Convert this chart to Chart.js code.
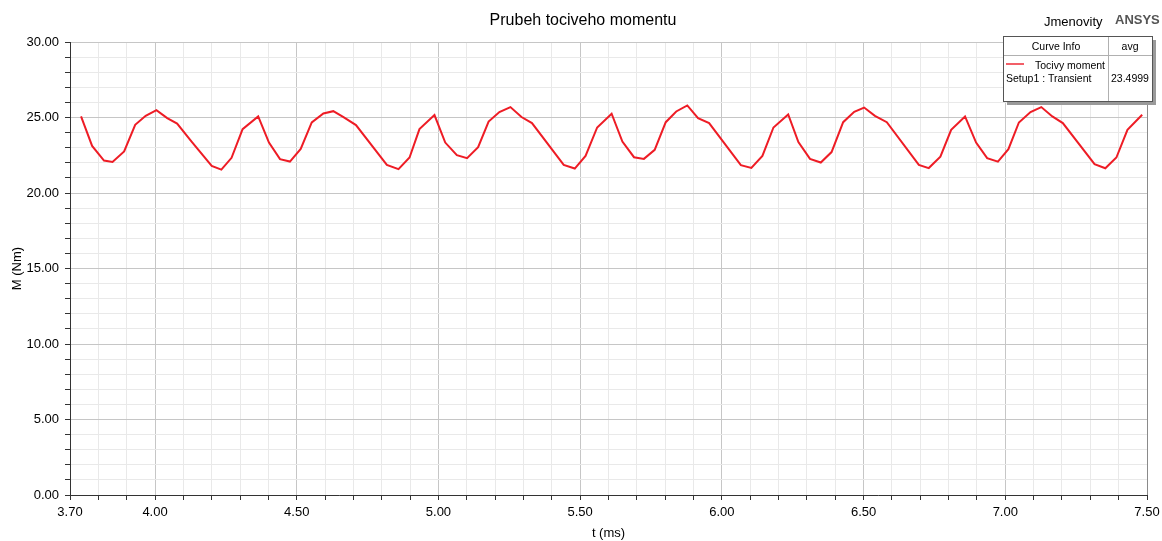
<!DOCTYPE html>
<html>
<head>
<meta charset="utf-8">
<script src="https://cdn.jsdelivr.net/npm/chart.js@4"></script>
<style>
  body { margin: 0; background: #fff; }
  #grafico { display: block; }
</style>
</head>
<body>
<canvas id="grafico" width="1162" height="541"></canvas>
<script>
// datos (t en ms, M en Nm)
const tiempos = [
  3.739, 3.778, 3.820, 3.850, 3.891, 3.930, 3.967, 4.005, 4.043, 4.078,
  4.129, 4.200, 4.234, 4.270, 4.309, 4.364, 4.402, 4.441, 4.476, 4.514,
  4.553, 4.594, 4.629, 4.665, 4.709, 4.818, 4.859, 4.898, 4.933, 4.986,
  5.024, 5.065, 5.101, 5.140, 5.177, 5.215, 5.254, 5.293, 5.330, 5.442,
  5.481, 5.519, 5.560, 5.611, 5.649, 5.690, 5.725, 5.763, 5.802, 5.839,
  5.878, 5.916, 5.955, 6.067, 6.104, 6.143, 6.182, 6.234, 6.270, 6.311,
  6.349, 6.387, 6.428, 6.467, 6.502, 6.540, 6.582, 6.695, 6.730, 6.771,
  6.809, 6.858, 6.897, 6.936, 6.974, 7.011, 7.048, 7.089, 7.127, 7.166,
  7.203, 7.315, 7.353, 7.392, 7.431, 7.483
];
const momento = [
  25.07, 23.12, 22.15, 22.06, 22.75, 24.52, 25.11, 25.49, 24.96, 24.60,
  23.41, 21.80, 21.55, 22.33, 24.23, 25.07, 23.34, 22.24, 22.08, 22.92,
  24.67, 25.27, 25.42, 25.03, 24.50, 21.86, 21.58, 22.35, 24.23, 25.16,
  23.34, 22.51, 22.31, 23.04, 24.73, 25.36, 25.69, 25.03, 24.63, 21.86,
  21.62, 22.46, 24.34, 25.25, 23.41, 22.37, 22.26, 22.86, 24.69, 25.40,
  25.80, 24.96, 24.63, 21.84, 21.66, 22.46, 24.34, 25.20, 23.37, 22.26,
  22.02, 22.71, 24.69, 25.38, 25.66, 25.11, 24.69, 21.86, 21.65, 22.41,
  24.18, 25.07, 23.34, 22.31, 22.08, 22.90, 24.67, 25.36, 25.69, 25.07,
  24.63, 21.91, 21.64, 22.35, 24.18, 25.18
];
const ticksX = [3.7, 3.8, 3.9, 4.0, 4.1, 4.2, 4.3, 4.4, 4.5, 4.6, 4.7, 4.8, 4.9,
  5.0, 5.1, 5.2, 5.3, 5.4, 5.5, 5.6, 5.7, 5.8, 5.9, 6.0, 6.1, 6.2, 6.3, 6.4,
  6.5, 6.6, 6.7, 6.8, 6.9, 7.0, 7.1, 7.2, 7.3, 7.4, 7.5];
const etiquetasX = [3.7, 4.0, 4.5, 5.0, 5.5, 6.0, 6.5, 7.0, 7.5];
const etiquetasY = [0, 5, 10, 15, 20, 25, 30];
const promedio = "23.4999";

const fuente = "'Liberation Sans', Arial, sans-serif";
const gridMenor = "#e9e9e9";
const gridMayor = "#c6c6c6";

const esEtiquetaX = (v) => etiquetasX.some((e) => Math.abs(e - v) < 1e-6);

const puntos = tiempos.map((t, i) => ({ x: t, y: momento[i] }));

// textos de encabezado y cuadro "Curve Info"
const textos = {
  id: "textos",
  afterDraw(chart) {
    const ctx = chart.ctx;
    ctx.save();
    ctx.fillStyle = "#000";
    ctx.textBaseline = "middle";
    ctx.textAlign = "center";
    ctx.font = `16px ${fuente}`;
    ctx.fillText("Prubeh tociveho momentu", 583, 21);

    ctx.textAlign = "left";
    ctx.font = `13px ${fuente}`;
    ctx.fillText("Jmenovity", 1044, 22);
    ctx.fillStyle = "#555";
    ctx.font = `bold 13px ${fuente}`;
    ctx.fillText("ANSYS", 1115, 20);

    // borde derecho
    const area = chart.chartArea;
    ctx.strokeStyle = "#8a8a8a";
    ctx.lineWidth = 1;
    ctx.beginPath();
    ctx.moveTo(area.right + 0.5, area.top);
    ctx.lineTo(area.right + 0.5, area.bottom);
    ctx.stroke();

    // cuadro de leyenda
    const x0 = 1003, y0 = 36, w = 149, h = 65;
    ctx.fillStyle = "#9a9a9a";
    ctx.fillRect(x0 + 4, y0 + 4, w, h);
    ctx.fillStyle = "#fff";
    ctx.fillRect(x0, y0, w, h);
    ctx.strokeStyle = "#555";
    ctx.strokeRect(x0 + 0.5, y0 + 0.5, w, h);
    ctx.strokeStyle = "#b0b0b0";
    ctx.beginPath();
    ctx.moveTo(x0 + 1, 55.5);
    ctx.lineTo(x0 + w, 55.5);
    ctx.moveTo(1108.5, y0 + 1);
    ctx.lineTo(1108.5, y0 + h);
    ctx.stroke();

    ctx.fillStyle = "#000";
    ctx.font = `10.5px ${fuente}`;
    ctx.textAlign = "center";
    ctx.fillText("Curve Info", 1056, 47);
    ctx.fillText("avg", 1130, 47);
    ctx.textAlign = "left";
    ctx.fillText("Tocivy moment", 1035, 66);
    ctx.fillText("Setup1 : Transient", 1006, 79);
    ctx.fillText(promedio, 1111, 79);

    ctx.strokeStyle = "#ee2a36";
    ctx.lineWidth = 1.5;
    ctx.beginPath();
    ctx.moveTo(1006, 64);
    ctx.lineTo(1024, 64);
    ctx.stroke();
    ctx.restore();
  }
};

const config = {
  type: "line",
  data: {
    datasets: [
      {
        label: "Tocivy moment",
        data: puntos,
        borderColor: "#ee1c25",
        borderWidth: 2,
        pointRadius: 0,
        tension: 0,
        fill: false,
      },
    ],
  },
  options: {
    responsive: false,
    animation: false,
    devicePixelRatio: 1,
    layout: { padding: { top: 42, right: 15, left: 0, bottom: 0 } },
    plugins: {
      legend: { display: false },
      title: { display: false },
      tooltip: { enabled: false },
    },
    scales: {
      x: {
        type: "linear",
        min: 3.7,
        max: 7.5,
        afterBuildTicks: (scale) => {
          scale.ticks = ticksX.map((v) => ({ value: v }));
        },
        afterFit: (scale) => {
          scale.height = 46;
          scale.paddingRight = 0;
          scale.paddingLeft = 0;
        },
        ticks: {
          autoSkip: false,
          maxRotation: 0,
          padding: 5,
          color: "#000",
          font: { family: fuente, size: 13 },
          callback: (v) => (esEtiquetaX(v) ? v.toFixed(2) : ""),
        },
        grid: {
          tickLength: 5,
          tickColor: "#333",
          color: (c) => (c.tick && esEtiquetaX(c.tick.value) ? gridMayor : gridMenor),
        },
        border: { color: "#333", width: 1 },
        title: {
          display: true,
          text: "t (ms)",
          color: "#000",
          font: { family: fuente, size: 13 },
          padding: { top: 0, bottom: 0 },
        },
      },
      y: {
        min: 0,
        max: 30,
        afterFit: (scale) => {
          scale.width = 70;
        },
        ticks: {
          stepSize: 1,
          autoSkip: false,
          padding: 6,
          color: "#000",
          font: { family: fuente, size: 13 },
          callback: (v) => (etiquetasY.includes(v) ? v.toFixed(2) : ""),
        },
        grid: {
          tickLength: 5,
          tickColor: "#333",
          color: (c) => (c.tick && etiquetasY.includes(c.tick.value) ? gridMayor : gridMenor),
        },
        border: { color: "#333", width: 1 },
        title: {
          display: true,
          text: "M (Nm)",
          color: "#000",
          font: { family: fuente, size: 13 },
          padding: { top: 10, bottom: 0 },
        },
      },
    },
  },
  plugins: [textos],
};

const grafico = new Chart(document.getElementById("grafico"), config);
</script>
</body>
</html>
